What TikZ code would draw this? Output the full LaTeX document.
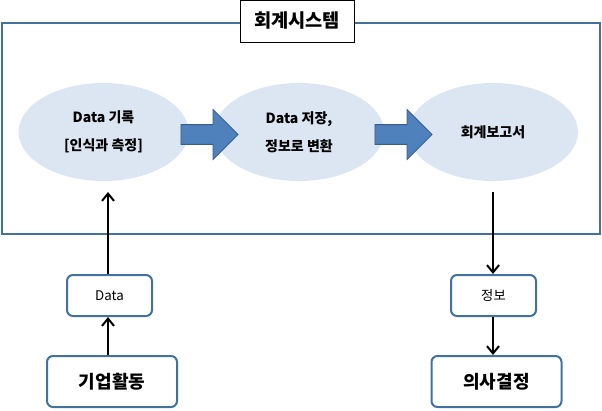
\documentclass[tikz,border=0pt]{standalone}
\usepackage{fontspec}
\setmainfont{Noto Sans CJK KR}
\usetikzlibrary{shapes,shapes.geometric,shapes.arrows,arrows.meta}

\definecolor{frameblue}{HTML}{41719C}
\definecolor{ovalfill}{HTML}{DCE6F2}
\definecolor{arrowfill}{HTML}{4F81BD}
\definecolor{arrowline}{HTML}{385D8A}

\begin{document}
\begin{tikzpicture}[x=0.75pt,y=-0.75pt]
				\tikzstyle{sysframe}=[draw=frameblue, line width=1.5pt]
				\tikzstyle{titlebox}=[draw=black, fill=white, line width=0.6pt, minimum width=85.5pt, minimum height=31.5pt, inner sep=0pt, font=\bfseries\fontsize{14}{16}\selectfont]
				\tikzstyle{oval}=[ellipse, fill=ovalfill, minimum width=127.5pt, minimum height=73.5pt, inner sep=0pt, align=center, font=\bfseries\fontsize{10.5}{21}\selectfont]
				\tikzstyle{fatarrow}=[single arrow, fill=arrowfill, draw=arrowline, line width=0.6pt, minimum height=42.75pt, inner xsep=0pt, inner ysep=7.1pt, single arrow head extend=11.25pt]
				\tikzstyle{smallbox}=[rectangle, rounded corners=4.5pt, draw=frameblue, line width=1.5pt, fill=white, minimum width=63.75pt, minimum height=30.75pt, inner sep=0pt, font=\fontsize{10}{12}\selectfont]
				\tikzstyle{bigbox}=[smallbox, minimum width=97.5pt, minimum height=38.25pt, font=\bfseries\fontsize{13.5}{16}\selectfont]
				\tikzstyle{flow}=[draw=black, line width=1.5pt, -{Straight Barb[length=5.5pt,width=9pt]}]
				\useasboundingbox (0,0) rectangle (602,410);
				% accounting system frame
				\draw[sysframe] (2,23) rectangle (600,234);
				\node[titlebox] (title) at (297,21) {회계시스템};
				% process ovals
				\node[oval] (record) at (103.5,132) {Data 기록\\{}[인식과 측정]};
				\node[oval] (store) at (299,132) {Data 저장,\\정보로 변환};
				\node[oval] (report) at (493,132) {회계보고서};
				\node[fatarrow] (step1) at (204.5,134.5) {};
				\node[fatarrow] (step2) at (398.5,134.5) {};
				% outside the system
				\node[smallbox] (data) at (109.5,295.5) {Data};
				\node[smallbox] (info) at (493.5,295.5) {정보};
				\node[bigbox] (business) at (112,381.5) {기업활동};
				\node[bigbox] (decision) at (496.5,381.5) {의사결정};
				\coordinate (in) at (108,192);
				\coordinate (out) at (493,192);
				\draw[flow] (business.north -| in) -- (data.south -| in);
				\draw[flow] (data.north -| in) -- (in);
				\draw[flow] (out) -- (info.north -| out);
				\draw[flow] (info.south -| out) -- (decision.north -| out);
\end{tikzpicture}
\end{document}
